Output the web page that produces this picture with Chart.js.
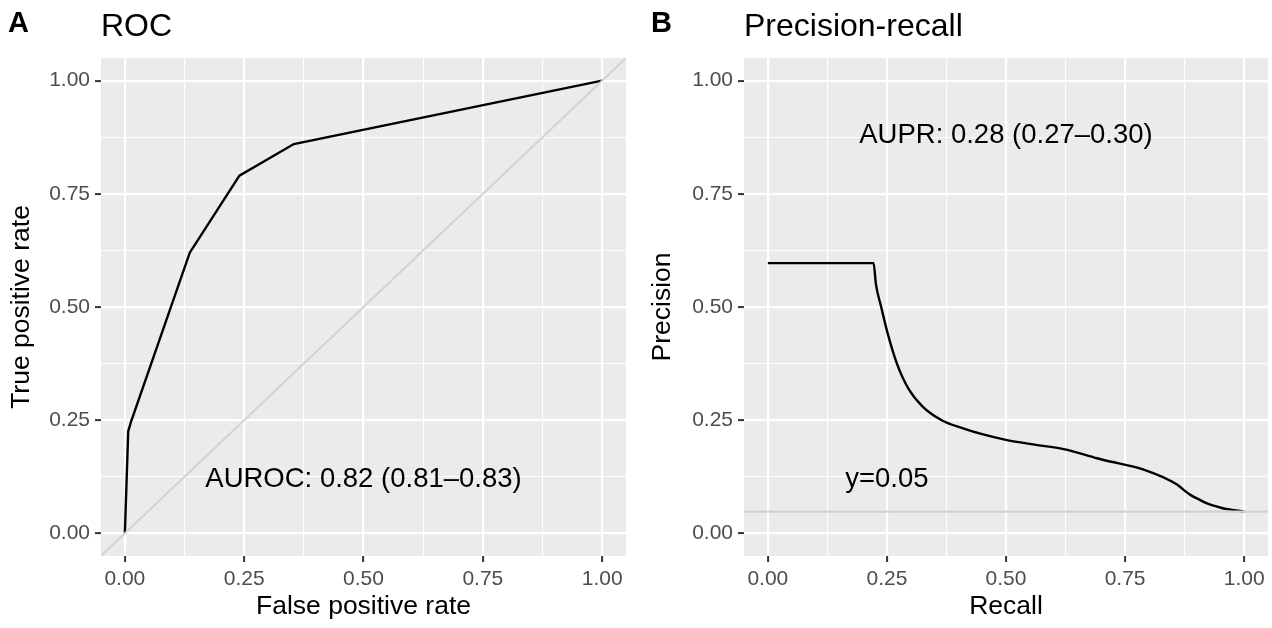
<!DOCTYPE html>
<html>
<head>
<meta charset="utf-8">
<script src="https://cdn.jsdelivr.net/npm/chart.js@4.4.1/dist/chart.umd.min.js"></script>
<style>
  html, body { margin: 0; padding: 0; background: #fff; }
  #wrap { position: relative; width: 1272px; height: 628px; }
  .panel { position: absolute; top: 0; }
</style>
</head>
<body>
<div id="wrap">
  <canvas id="rocChart" class="panel" style="left:0" width="636" height="628"></canvas>
  <canvas id="prChart" class="panel" style="left:636px" width="636" height="628"></canvas>
</div>
<script>
// --- data ---
const rocFpr = [0, 0.007, 0.013, 0.136, 0.240, 0.354, 1];
const rocTpr = [0, 0.225, 0.247, 0.620, 0.790, 0.860, 1];
const diagonalEnds = [-0.05, 1.05];

const prRecall    = [0, 0.222, 0.227, 0.238, 0.252, 0.271, 0.295, 0.325, 0.365, 0.410, 0.450, 0.502, 0.560, 0.621, 0.684, 0.705, 0.789, 0.859, 0.873, 0.887, 0.905, 0.922, 0.940, 0.957, 0.975, 1.0];
const prPrecision = [0.597, 0.597, 0.550, 0.500, 0.440, 0.375, 0.320, 0.280, 0.250, 0.232, 0.219, 0.206, 0.196, 0.186, 0.168, 0.162, 0.141, 0.108, 0.096, 0.085, 0.075, 0.066, 0.060, 0.055, 0.052, 0.048];
const prBaseline = 0.048;

const tickValues = [0, 0.25, 0.5, 0.75, 1];
const tickLabels = ['0.00', '0.25', '0.50', '0.75', '1.00'];
const minorValues = [0.125, 0.375, 0.625, 0.875];

const FONT = '"Liberation Sans", Arial, Helvetica, sans-serif';

const isMajor = (v) => tickValues.includes(v);

function buildAxis(label, isX, fitSize, titlePad) {
    return {
        type: 'linear',
        min: -0.05,
        max: 1.05,
        afterBuildTicks: (scale) => {
            scale.ticks = tickValues.concat(minorValues).sort((a, b) => a - b).map(v => ({ value: v }));
        },
        afterFit: (scale) => {
            if (isX) scale.height = fitSize; else scale.width = fitSize;
        },
        ticks: {
            autoSkip: false,
            maxRotation: 0,
            padding: 5,
            color: '#4D4D4D',
            font: { family: FONT, size: 21 },
            callback: (v) => {
                const i = tickValues.indexOf(v);
                return i >= 0 ? tickLabels[i] : '';
            }
        },
        grid: {
            color: '#FFFFFF',
            lineWidth: (c) => (c.tick && isMajor(c.tick.value)) ? 2.2 : 1.1,
            drawTicks: true,
            tickLength: 6,
            tickWidth: 2,
            tickColor: (c) => (c.tick && isMajor(c.tick.value)) ? '#333333' : 'rgba(0,0,0,0)'
        },
        border: { display: false },
        title: {
            display: true,
            text: label,
            color: '#000000',
            font: { family: FONT, size: 26.5 },
            padding: { top: titlePad, bottom: titlePad }
        }
    };
}

const panelBg = {
    id: 'panelBg',
    beforeDraw(chart) {
        const { ctx, chartArea: a } = chart;
        ctx.save();
        ctx.fillStyle = '#EBEBEB';
        ctx.fillRect(a.left, a.top, a.right - a.left, a.bottom - a.top);
        ctx.restore();
    }
};

const panelText = {
    id: 'panelText',
    afterDraw(chart, args, opts) {
        const { ctx, chartArea: a, scales } = chart;
        ctx.save();
        ctx.fillStyle = '#000000';
        ctx.textBaseline = 'alphabetic';
        ctx.textAlign = 'left';
        ctx.font = 'bold 29px ' + FONT;
        ctx.fillText(opts.tag, opts.tagX, 32);
        ctx.font = '32px ' + FONT;
        ctx.fillText(opts.title, a.left, 36);
        ctx.font = '27.5px ' + FONT;
        ctx.textAlign = 'center';
        ctx.textBaseline = 'middle';
        opts.notes.forEach(n => {
            ctx.fillText(n.text, scales.x.getPixelForValue(n.x), scales.y.getPixelForValue(n.y));
        });
        ctx.restore();
    }
};

function lineSet(xs, ys, color, width, smooth) {
    return {
        data: xs.map((x, i) => ({ x: x, y: ys[i] })),
        borderColor: color,
        borderWidth: width,
        pointRadius: 0,
        showLine: true,
        tension: smooth ? 0.4 : 0,
        cubicInterpolationMode: smooth ? 'monotone' : 'default',
        fill: false
    };
}

function makeChart(id, cfg) {
    return new Chart(document.getElementById(id), {
        type: 'scatter',
        data: { datasets: cfg.datasets },
        options: {
            responsive: false,
            animation: false,
            layout: { padding: { top: 58, right: cfg.padRight, left: 0, bottom: 0 } },
            plugins: {
                legend: { display: false },
                tooltip: { enabled: false },
                panelText: cfg.text
            },
            scales: {
                x: buildAxis(cfg.xTitle, true, 72, 5),
                y: buildAxis(cfg.yTitle, false, cfg.yWidth, cfg.yTitlePad)
            }
        },
        plugins: [panelBg, panelText]
    });
}

// --- ROC ---
makeChart('rocChart', {
    datasets: [
        lineSet(diagonalEnds, diagonalEnds, '#D3D3D3', 2, false),
        lineSet(rocFpr, rocTpr, '#000000', 2.4, false)
    ],
    padRight: 10,
    yWidth: 101,
    yTitlePad: 6,
    xTitle: 'False positive rate',
    yTitle: 'True positive rate',
    text: {
        tag: 'A', tagX: 8, title: 'ROC',
        notes: [{ text: 'AUROC: 0.82 (0.81\u20130.83)', x: 0.5, y: 0.12 }]
    }
});

// --- Precision-recall ---
makeChart('prChart', {
    datasets: [
        lineSet(diagonalEnds, [prBaseline, prBaseline], '#D3D3D3', 2.2, false),
        lineSet(prRecall, prPrecision, '#000000', 2.4, true)
    ],
    padRight: 4,
    yWidth: 108,
    yTitlePad: 11,
    xTitle: 'Recall',
    yTitle: 'Precision',
    text: {
        tag: 'B', tagX: 15, title: 'Precision-recall',
        notes: [
            { text: 'AUPR: 0.28 (0.27\u20130.30)', x: 0.5, y: 0.88 },
            { text: 'y=0.05', x: 0.25, y: 0.12 }
        ]
    }
});
</script>
</body>
</html>
